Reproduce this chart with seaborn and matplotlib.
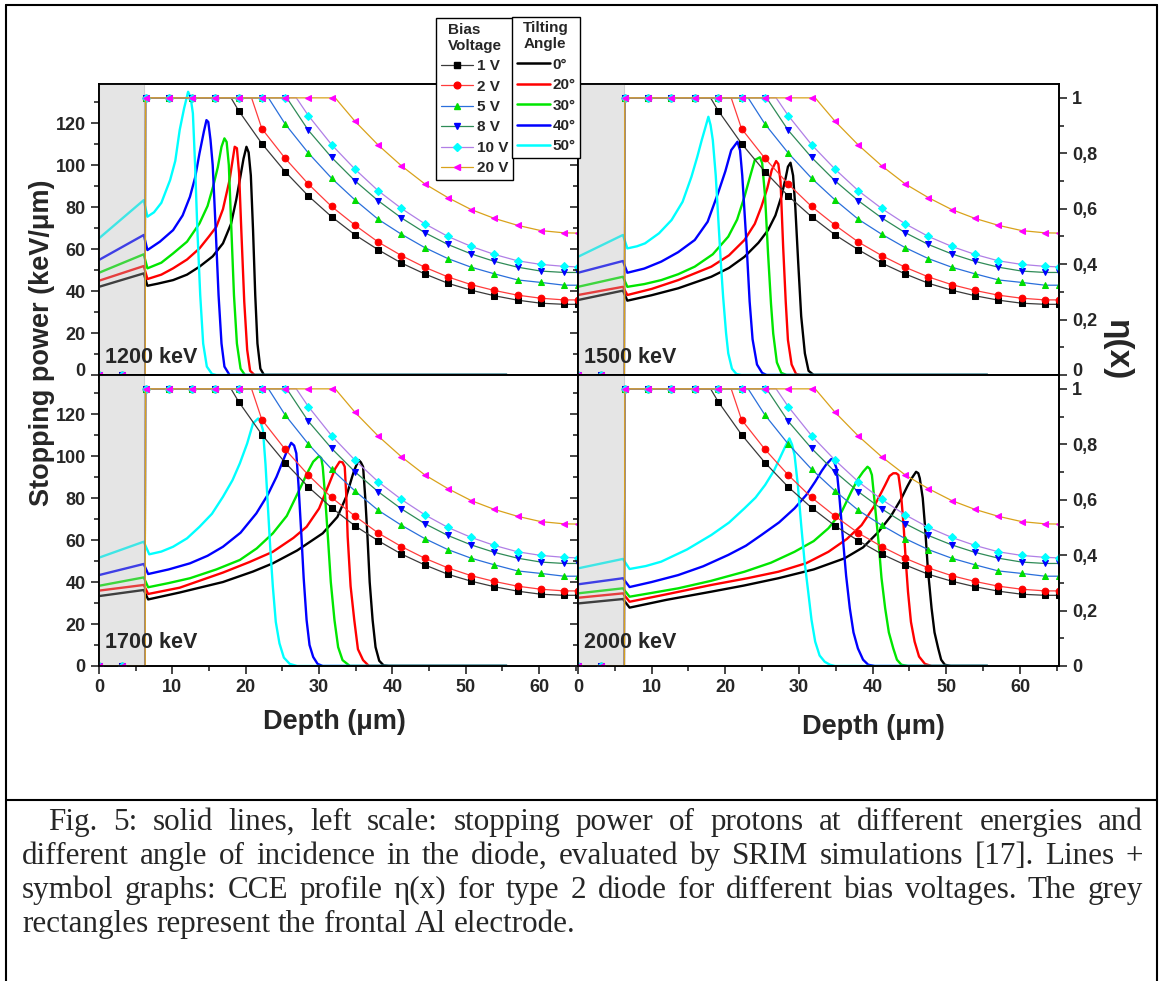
import matplotlib
matplotlib.use("Agg")
import matplotlib.pyplot as plt
import matplotlib.transforms as mtransforms
import seaborn as sns
from matplotlib.lines import Line2D
from matplotlib.ticker import MultipleLocator, FuncFormatter

# Panels (proton energy) and tilting angles
energies = ["1200 keV", "1500 keV", "1700 keV", "2000 keV"]
angles = ["0°", "20°", "30°", "40°", "50°"]
angle_colors = ["#000000", "#ff0000", "#00e600", "#0000ff", "#00ffff"]

# SRIM stopping power (keV/um) vs depth (um), one list per tilting angle
depth_1200 = [
    [0, 6.1, 6.6, 8.0, 10.1, 12.0, 13.7, 15.5, 16.9, 18.0, 18.7, 19.3, 19.7, 20.1, 20.4, 20.7, 21.0, 21.3, 21.6, 22.0, 22.5, 55.6],
    [0, 6.1, 6.6, 8.5, 10.1, 12.0, 13.7, 15.0, 16.0, 16.9, 17.8, 18.2, 18.5, 18.8, 19.1, 19.4, 19.8, 20.2, 20.6, 21.2, 55.6],
    [0, 6.1, 6.6, 8.5, 10.1, 12.0, 13.7, 14.8, 15.55, 16.2, 16.7, 17.1, 17.4, 17.7, 18.05, 18.4, 18.8, 19.3, 19.9, 55.6],
    [0, 6.1, 6.6, 8.3, 10.1, 11.4, 12.4, 13.1, 13.7, 14.3, 14.65, 14.9, 15.2, 15.5, 15.9, 16.3, 16.7, 17.1, 17.8, 55.6],
    [0, 6.1, 6.6, 7.5, 8.5, 9.7, 10.4, 11.0, 11.6, 12.15, 12.5, 12.8, 13.1, 13.4, 13.8, 14.2, 14.7, 15.4, 16.0, 55.6],
]
sp_1200 = [
    [42.0, 48.4, 42.5, 43.5, 45.2, 47.8, 51.6, 56.5, 62.7, 72.0, 83.3, 95.0, 103.0, 108.7, 106.0, 95.0, 69.0, 38.0, 15.0, 3.0, 0, 0],
    [44.9, 51.9, 45.7, 47.8, 50.8, 55.0, 60.3, 66.0, 70.6, 79.0, 92.9, 102.0, 108.7, 108.0, 96.0, 69.0, 35.0, 12.0, 2.0, 0, 0],
    [48.7, 57.5, 50.8, 53.5, 57.9, 63.5, 72.2, 80.5, 89.7, 99.0, 108.7, 112.7, 111.0, 100.0, 69.0, 38.0, 15.0, 3.0, 0, 0],
    [54.8, 66.7, 59.5, 63.5, 69.0, 76.0, 84.9, 94.0, 105.6, 116.0, 121.4, 120.5, 112.0, 100.0, 70.0, 38.0, 15.0, 4.0, 0, 0],
    [65.1, 83.3, 75.4, 77.5, 82.0, 92.9, 102.0, 116.7, 127.0, 134.9, 132.0, 124.6, 100.0, 70.0, 38.0, 15.0, 4.0, 0.5, 0, 0],
]
depth_1500 = [
    [0, 6.1, 6.7, 10.0, 13.6, 18.1, 20.5, 22.6, 24.5, 25.8, 26.8, 27.6, 28.2, 28.5, 28.85, 29.2, 29.5, 29.9, 30.3, 30.8, 31.3, 32.0, 55.6],
    [0, 6.1, 6.7, 10.0, 13.6, 18.1, 20.5, 22.6, 24.0, 24.9, 25.7, 26.3, 26.9, 27.2, 27.5, 27.85, 28.2, 28.5, 29.0, 29.6, 30.2, 55.6],
    [0, 6.1, 6.7, 9.0, 11.3, 13.6, 15.85, 18.3, 20.4, 21.6, 22.6, 23.4, 24.0, 24.7, 25.0, 25.4, 25.8, 26.2, 26.5, 27.0, 27.6, 28.3, 55.6],
    [0, 6.1, 6.7, 9.0, 11.3, 13.6, 15.85, 17.6, 19.0, 20.0, 20.8, 21.65, 22.0, 22.3, 22.6, 22.9, 23.3, 23.7, 24.3, 25.0, 25.6, 55.6],
    [0, 6.1, 6.7, 8.0, 9.1, 11.0, 12.7, 14.2, 15.4, 16.2, 16.8, 17.3, 17.7, 18.0, 18.3, 18.7, 19.0, 19.4, 19.7, 20.1, 20.4, 20.9, 21.5, 22.2, 55.6],
]
sp_1500 = [
    [35.7, 40.2, 35.4, 38.0, 41.3, 46.8, 51.0, 56.3, 63.0, 69.0, 76.0, 84.9, 94.0, 99.2, 101.1, 95.0, 80.0, 53.2, 28.0, 10.3, 2.0, 0, 0],
    [38.1, 42.0, 38.1, 41.0, 45.2, 51.6, 57.0, 64.3, 72.0, 80.2, 89.0, 97.6, 101.9, 100.5, 92.0, 61.1, 35.0, 16.7, 5.0, 0.5, 0, 0],
    [42.0, 46.8, 42.0, 43.3, 45.2, 48.0, 51.6, 57.5, 65.9, 74.0, 84.9, 95.0, 102.4, 103.7, 101.0, 85.0, 57.9, 34.0, 19.8, 6.0, 1.0, 0, 0],
    [48.7, 54.3, 48.7, 50.7, 54.0, 58.5, 64.3, 73.0, 86.5, 97.0, 107.1, 111.1, 107.0, 95.0, 78.0, 61.1, 35.0, 17.0, 5.0, 1.0, 0, 0],
    [56.3, 66.7, 60.3, 61.3, 62.7, 67.5, 73.8, 82.5, 94.4, 104.0, 111.9, 118.0, 123.0, 119.0, 111.9, 95.0, 77.0, 53.0, 37.3, 20.0, 10.3, 3.0, 0.5, 0, 0],
]
depth_1700 = [
    [0, 6.1, 6.7, 11.0, 16.9, 21.0, 23.7, 27.0, 30.5, 32.5, 33.7, 34.5, 34.8, 35.4, 35.7, 36.0, 36.3, 36.6, 36.9, 37.3, 37.7, 38.2, 38.8, 39.5, 55.6],
    [0, 6.1, 6.7, 11.0, 16.9, 20.5, 23.7, 26.5, 28.3, 30.0, 31.4, 32.2, 32.8, 33.2, 33.5, 33.7, 33.9, 34.3, 34.8, 35.3, 36.0, 36.8, 55.6],
    [0, 6.1, 6.7, 9.5, 12.4, 16.0, 19.2, 21.5, 23.7, 25.6, 27.3, 28.4, 29.2, 30.0, 30.3, 30.5, 30.8, 31.2, 31.6, 32.1, 32.6, 33.2, 34.2, 55.6],
    [0, 6.1, 6.7, 9.5, 12.4, 14.8, 16.9, 19.3, 21.45, 23.0, 24.2, 25.0, 25.5, 26.2, 26.6, 26.9, 27.2, 27.6, 27.9, 28.3, 28.7, 29.2, 29.8, 30.5, 55.6],
    [0, 6.1, 6.85, 8.5, 10.1, 12.0, 13.7, 15.4, 16.9, 18.2, 19.2, 20.2, 21.0, 21.7, 22.0, 22.35, 22.7, 23.0, 23.35, 23.7, 24.1, 24.6, 25.2, 26.0, 27.0, 55.6],
]
sp_1700 = [
    [33.3, 36.2, 31.7, 35.0, 40.0, 45.0, 48.9, 55.0, 63.2, 71.0, 80.6, 90.0, 93.3, 98.1, 97.0, 94.9, 80.0, 61.6, 40.0, 21.9, 9.0, 2.5, 0.3, 0, 0],
    [35.9, 38.6, 34.3, 37.3, 44.5, 49.5, 54.4, 61.0, 66.3, 75.0, 87.0, 94.0, 97.3, 97.0, 94.9, 82.0, 61.6, 38.0, 21.9, 8.0, 2.8, 0, 0],
    [38.2, 42.2, 37.5, 39.5, 41.8, 46.0, 50.5, 56.0, 63.2, 71.5, 83.8, 92.0, 97.3, 100.0, 99.0, 94.9, 82.0, 61.6, 40.0, 21.9, 9.0, 2.8, 0, 0],
    [43.3, 48.6, 43.8, 46.0, 48.9, 52.5, 56.8, 63.5, 72.7, 81.5, 90.1, 97.0, 101.3, 106.3, 105.0, 101.3, 86.0, 61.6, 42.0, 21.9, 10.0, 4.3, 1.0, 0, 0],
    [51.6, 59.2, 53.2, 54.5, 56.8, 60.8, 66.3, 72.5, 80.6, 88.5, 96.5, 106.0, 115.6, 117.9, 116.5, 112.4, 96.0, 77.5, 56.0, 37.8, 21.0, 10.8, 4.0, 1.0, 0, 0],
]
depth_2000 = [
    [0, 6.1, 7.0, 12.0, 18.1, 22.5, 27.2, 32.0, 36.2, 38.7, 40.8, 42.5, 43.9, 44.7, 45.3, 45.9, 46.2, 46.4, 46.8, 47.1, 47.5, 48.0, 48.4, 48.9, 49.3, 49.8, 50.6, 55.6],
    [0, 6.1, 7.0, 12.5, 18.1, 23.0, 27.2, 31.0, 34.0, 36.5, 38.5, 40.2, 41.7, 42.3, 42.8, 43.2, 43.5, 43.85, 44.2, 44.5, 44.8, 45.2, 45.7, 46.3, 47.1, 48.0, 55.6],
    [0, 6.1, 7.0, 10.0, 13.6, 18.0, 22.6, 26.2, 29.4, 32.0, 34.0, 35.8, 37.1, 38.0, 38.7, 39.3, 39.6, 39.9, 40.3, 40.8, 41.2, 41.7, 42.2, 42.8, 43.3, 43.9, 44.8, 55.6],
    [0, 6.1, 7.0, 10.0, 13.6, 17.0, 20.4, 22.8, 24.9, 27.3, 29.4, 31.0, 32.2, 33.1, 33.7, 34.4, 34.75, 35.1, 35.5, 36.0, 36.4, 36.9, 37.4, 38.0, 38.7, 39.4, 40.3, 55.6],
    [0, 6.1, 7.0, 9.2, 11.3, 14.8, 18.1, 20.5, 22.6, 24.1, 25.4, 26.6, 27.6, 28.2, 28.7, 29.05, 29.4, 29.85, 30.3, 30.75, 31.25, 31.7, 32.2, 32.8, 33.5, 34.2, 34.9, 55.6],
]
sp_2000 = [
    [29.8, 31.9, 27.8, 31.5, 35.4, 38.3, 41.8, 46.0, 51.3, 56.5, 63.9, 71.5, 79.8, 85.5, 89.4, 92.5, 91.8, 89.4, 80.0, 67.1, 46.0, 27.5, 16.0, 8.4, 3.0, 0.6, 0, 0],
    [32.5, 34.6, 30.6, 34.5, 38.6, 41.8, 44.9, 49.0, 54.4, 60.5, 67.1, 76.0, 86.2, 90.5, 91.8, 91.8, 91.0, 82.0, 67.1, 50.0, 35.4, 21.0, 11.6, 4.5, 1.0, 0, 0],
    [34.6, 37.0, 33.0, 34.8, 37.0, 40.5, 44.9, 49.2, 54.4, 59.5, 65.6, 73.5, 83.0, 89.0, 92.5, 94.9, 94.0, 91.0, 77.0, 59.2, 42.0, 27.5, 16.0, 8.4, 3.0, 0.6, 0, 0],
    [38.9, 41.8, 37.6, 40.0, 43.3, 47.5, 52.9, 57.3, 62.4, 68.4, 75.1, 81.5, 87.8, 93.0, 96.0, 98.6, 97.5, 94.1, 80.0, 59.2, 43.0, 27.5, 16.0, 8.4, 3.0, 0.6, 0, 0],
    [46.5, 51.0, 46.2, 47.6, 49.7, 55.5, 62.4, 68.3, 75.1, 80.2, 86.2, 93.0, 100.5, 105.0, 108.4, 105.5, 100.5, 86.0, 67.1, 50.0, 35.4, 22.0, 11.6, 5.0, 2.0, 0.6, 0, 0],
]

# CCE profile eta(x) of the type 2 diode, same in every panel
cce_depth = [0, 3.17, 6.3, 6.35, 9.52, 12.69, 15.86, 19.03, 22.2, 25.37, 28.54, 31.71,
             34.88, 38.05, 41.22, 44.39, 47.56, 50.73, 53.9, 57.07, 60.24, 63.41, 65.3]
voltages = ["1 V", "2 V", "5 V", "8 V", "10 V", "20 V"]
cce_knee = [18.0, 20.8, 23.1, 25.6, 26.9, 32.2]  # end of the eta = 1 plateau
cce_1v = [0, 0, 0, 1, 1, 1, 1, 0.954, 0.835, 0.734, 0.646, 0.571, 0.506, 0.452, 0.404,
          0.365, 0.331, 0.306, 0.286, 0.270, 0.259, 0.255, 0.255]
cce_2v = [0, 0, 0, 1, 1, 1, 1, 1, 0.889, 0.782, 0.689, 0.608, 0.541, 0.480, 0.431,
          0.389, 0.354, 0.326, 0.305, 0.288, 0.277, 0.271, 0.271]
cce_5v = [0, 0, 0, 1, 1, 1, 1, 1, 1, 0.906, 0.801, 0.710, 0.632, 0.562, 0.508,
          0.460, 0.420, 0.389, 0.365, 0.343, 0.334, 0.324, 0.324]
cce_8v = [0, 0, 0, 1, 1, 1, 1, 1, 1, 1, 0.883, 0.785, 0.701, 0.629, 0.567,
          0.514, 0.471, 0.437, 0.410, 0.389, 0.375, 0.370, 0.370]
cce_10v = [0, 0, 0, 1, 1, 1, 1, 1, 1, 1, 0.936, 0.831, 0.743, 0.665, 0.601,
           0.546, 0.500, 0.464, 0.435, 0.412, 0.399, 0.392, 0.390]
cce_20v = [0, 0, 0, 1, 1, 1, 1, 1, 1, 1, 1, 1, 0.916, 0.830, 0.755,
           0.690, 0.640, 0.597, 0.565, 0.540, 0.521, 0.513, 0.512]
cce_all = [cce_1v, cce_2v, cce_5v, cce_8v, cce_10v, cce_20v]
cce_line_colors = ["#3a3a3a", "#ff3c3c", "#2a6fdb", "#2e8b57", "#b07fe6", "#d9a21b"]
cce_marker_colors = ["#000000", "#ff0000", "#00dd00", "#0000ff", "#00ffff", "#ff00ff"]
cce_markers = ["s", "o", "^", "v", "D", "<"]
cce_msize = [4.8, 4.8, 5.0, 5.0, 4.0, 5.0]

caption = [
    "Fig. 5: solid lines, left scale: stopping power of protons at different energies and",
    "different angle of incidence in the diode, evaluated by SRIM simulations [17]. Lines +",
    "symbol graphs: CCE profile η(x) for type 2 diode for different bias voltages. The grey",
    "rectangles represent the frontal Al electrode.",
]

# add the plateau end (no symbol) to each CCE series
cce_series = []
for ys, knee in zip(cce_all, cce_knee):
    d, e = list(cce_depth), list(ys)
    j = next(k for k, x in enumerate(d) if x > knee)
    d.insert(j, knee)
    e.insert(j, 1)
    marks = [k for k, x in enumerate(d) if x not in (6.3, knee)]
    cce_series.append((d, e, marks))

sns.set_theme(style="ticks")
plt.rcParams["font.family"] = ["Liberation Sans", "DejaVu Sans"]
plt.rcParams["font.weight"] = "bold"
plt.rcParams["axes.linewidth"] = 1.2

W, H = 1162, 981
fig = plt.figure(figsize=(W / 100, H / 100), dpi=100)


def rect(l, t, r, b):
    return [l / W, 1 - b / H, (r - l) / W, (b - t) / H]


def eta_fmt(v, pos):
    if abs(v) < 1e-9:
        return "0"
    if abs(v - 1) < 1e-9:
        return "1"
    return ("%.1f" % v).replace(".", ",")


panel_boxes = [(99, 84, 578, 375), (578, 84, 1059, 375), (99, 375, 578, 666), (578, 375, 1059, 666)]
depths = [depth_1200, depth_1500, depth_1700, depth_2000]
sps = [sp_1200, sp_1500, sp_1700, sp_2000]
label_y = [0.025, 0.025, 0.045, 0.045]
top_axes = []

for i, box in enumerate(panel_boxes):
    ax = fig.add_axes(rect(*box))
    for xs, ys, col in zip(depths[i], sps[i], angle_colors):
        sns.lineplot(x=xs, y=ys, ax=ax, color=col, lw=1.7, estimator=None, sort=False)
    # grey Al electrode on top of the SRIM curves
    ax.axvspan(0, 6.2, facecolor="#b7b7b7", alpha=0.35, edgecolor="#909090", lw=0.8, zorder=3)
    ax.set_xlim(0, 65.3)
    ax.set_ylim(0, 138.6)
    ax.xaxis.set_major_locator(MultipleLocator(10))
    ax.xaxis.set_minor_locator(MultipleLocator(5))
    ax.yaxis.set_major_locator(MultipleLocator(20))
    ax.yaxis.set_minor_locator(MultipleLocator(10))

    ax2 = ax.twinx()
    for (d, e, marks), lc, mc, mk, ms in zip(cce_series, cce_line_colors, cce_marker_colors,
                                             cce_markers, cce_msize):
        sns.lineplot(x=d, y=e, ax=ax2, color=lc, lw=0.9, marker=mk, markersize=ms,
                     markevery=marks, markerfacecolor=mc, markeredgecolor=mc,
                     estimator=None, sort=False)
    ax2.set_xlim(0, 65.3)
    ax2.set_ylim(0, 1.05)
    ax2.yaxis.set_major_locator(MultipleLocator(0.2))
    ax2.yaxis.set_minor_locator(MultipleLocator(0.1))
    ax2.yaxis.set_major_formatter(FuncFormatter(eta_fmt))

    for a in (ax, ax2):
        a.tick_params(which="both", direction="out", width=1.2, labelsize=13)
        a.tick_params(which="major", length=6)
        a.tick_params(which="minor", length=3.5)
        for s in a.spines.values():
            s.set_linewidth(1.2)
            s.set_color("black")
        a.set_xlabel("")
        a.set_ylabel("")
    ax.tick_params(axis="x", labelbottom=(i >= 2), top=False)
    ax2.tick_params(axis="x", top=False, bottom=False, labelbottom=False)
    if i % 2 == 1:
        ax.tick_params(axis="y", labelleft=False)
    else:
        ax2.tick_params(axis="y", labelright=False)
    if i < 2:
        top_axes += [ax, ax2]

    ax2.text(0.012, label_y[i], energies[i], transform=ax2.transAxes, fontsize=15.5,
             fontweight="bold", va="bottom", ha="left", zorder=10)

# axis titles
fig.text(42 / W, 1 - 343 / H, "Stopping power (keV/μm)", rotation=90, ha="center", va="center",
         fontsize=19.5, fontweight="bold")
fig.text(334 / W, 1 - 722 / H, "Depth (μm)", ha="center", va="center", fontsize=19.5, fontweight="bold")
fig.text(873 / W, 1 - 727 / H, "Depth (μm)", ha="center", va="center", fontsize=19.5, fontweight="bold")
fig.text(1117 / W, 1 - 350 / H, "η(x)", rotation=270, ha="center", va="center",
         fontsize=24, fontweight="bold")

# legends
bias_handles = [Line2D([], [], color=lc, lw=0.9, marker=mk, markersize=ms,
                       markerfacecolor=mc, markeredgecolor=mc)
                for lc, mc, mk, ms in zip(cce_line_colors, cce_marker_colors, cce_markers, cce_msize)]
angle_handles = [Line2D([], [], color=c, lw=1.8) for c in angle_colors]
leg_kw = dict(loc="upper left", frameon=True, fancybox=False, framealpha=1, edgecolor="black",
              prop={"weight": "bold", "size": 11}, title_fontproperties={"weight": "bold", "size": 11},
              labelspacing=0.42, borderpad=0.3, borderaxespad=0)
leg1 = fig.legend(bias_handles, voltages, title="Bias\nVoltage", bbox_to_anchor=(436 / W, 1 - 18 / H),
                  handlelength=2.1, handletextpad=0.3, **leg_kw)
leg2 = fig.legend(angle_handles, angles, title="Tilting\nAngle", bbox_to_anchor=(512 / W, 1 - 16.5 / H),
                  handlelength=2.2, handletextpad=0.15, **leg_kw)
for lg in (leg1, leg2):
    lg.get_frame().set_linewidth(1.0)

# outer frame and caption box
frame_kw = dict(color="black", lw=1.5, transform=fig.transFigure)
fig.add_artist(Line2D([6 / W, 1157 / W], [1 - 5 / H, 1 - 5 / H], **frame_kw))
fig.add_artist(Line2D([6 / W, 6 / W], [0, 1 - 5 / H], **frame_kw))
fig.add_artist(Line2D([1157 / W, 1157 / W], [0, 1 - 5 / H], **frame_kw))
fig.add_artist(Line2D([6 / W, 1157 / W], [1 - 800 / H, 1 - 800 / H], **frame_kw))

# justified caption
cap_size = 22.4
renderer = fig.canvas.get_renderer()
baselines = [830, 864, 898, 932]
for n, line in enumerate(caption):
    words = line.split(" ")
    arts = [fig.text(0, 1 - baselines[n] / H, w, fontsize=cap_size, family="Liberation Serif",
                     fontweight="normal", va="baseline") for w in words]
    widths = [a.get_window_extent(renderer=renderer).width for a in arts]
    x0 = 48 if n == 0 else 22
    x1 = 1143
    if n < len(caption) - 1:
        gap = (x1 - x0 - sum(widths)) / (len(words) - 1)
    else:
        gap = 0.25 * cap_size * 100 / 72
    x = x0
    for a, w in zip(arts, widths):
        a.set_x(x / W)
        x += w + gap

# keep the "0" of the upper panels clear of the lower panels' top label
fig.canvas.draw()
lift = mtransforms.ScaledTranslation(0, 4 / 72, fig.dpi_scale_trans)
for a in top_axes:
    for tick in a.yaxis.get_major_ticks():
        for lab in (tick.label1, tick.label2):
            if lab.get_text() == "0":
                lab.set_transform(lab.get_transform() + lift)

fig.savefig("out.png", dpi=100)
